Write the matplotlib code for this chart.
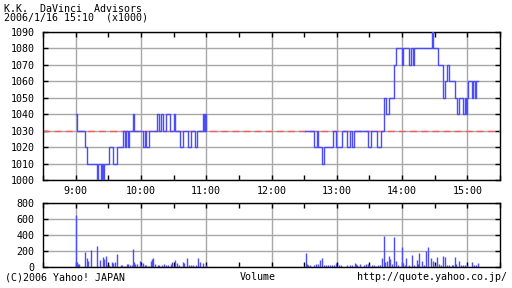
import numpy as np
import matplotlib
matplotlib.use("Agg")
import matplotlib.pyplot as plt
from matplotlib.ticker import MultipleLocator, FixedLocator

#%% data (minutes after 9:00)
am_t = [0, 1, 9, 10, 20, 21, 23, 24, 25, 26, 31, 34, 38, 43.5, 45, 46, 48, 49, 53, 54,
        62, 64, 65, 67, 75, 77, 78, 80, 83, 87, 90, 91, 96, 99, 103, 106, 110, 111.5,
        117, 118, 119, 120]
am_p = [1040, 1030, 1020, 1010, 1000, 1010, 1000, 1010, 1000, 1010, 1020, 1010, 1020, 1030,
        1020, 1030, 1020, 1030, 1040, 1030, 1020, 1030, 1020, 1030, 1040, 1030, 1040, 1030,
        1040, 1030, 1040, 1030, 1020, 1030, 1020, 1030, 1020, 1030, 1040, 1030, 1040, 1030]

pm_t = [211, 219, 221.5, 223, 226, 228, 236.5, 239, 244.5, 249.7, 252, 253.6, 256, 268.7,
        271.7, 276.6, 281, 283.4, 285.5, 288, 292.5, 294.7, 299.6, 300.8, 306.3, 308, 310,
        311, 327.4, 328.4, 333, 337.5, 339.4, 341.6, 343.2, 348.8, 350.8, 352.3, 356, 358,
        358.7, 359.3, 360.5, 364.2, 365, 366.7, 368, 369.7]
pm_p = [1030, 1020, 1030, 1020, 1010, 1020, 1030, 1020, 1030, 1020, 1030, 1020, 1030, 1020,
        1030, 1020, 1030, 1050, 1040, 1050, 1070, 1080, 1070, 1080, 1070, 1080, 1070,
        1080, 1090, 1080, 1070, 1050, 1060, 1070, 1060, 1050, 1040, 1050, 1040, 1050,
        1040, 1050, 1060, 1050, 1060, 1050, 1060, 1060]

prev_close = 1030

vol_t = [0, 1, 2, 3, 9, 10, 11, 14, 20, 22, 25, 26, 28, 29, 31, 33, 34, 36, 38, 42, 43, 45,
         47, 48, 50, 52, 53, 54, 55, 56, 59, 60, 62, 64, 65, 67, 69, 70, 71, 73, 76, 77, 79,
         81, 83, 85, 88, 89, 91, 93, 95, 99, 100, 102, 104, 106, 108, 111, 112, 114, 117, 120,
         212, 213, 214, 215, 219, 221, 223, 225, 226, 228, 230, 232, 234, 236, 237, 239, 242,
         244, 249, 252, 254, 257, 258, 259, 261, 265, 267, 269, 270, 272, 274, 276, 278, 280,
         282, 283, 284, 286, 288, 289, 291, 293, 294, 296, 300, 301, 303, 304, 306, 309, 311,
         314, 315, 316, 318, 320, 322, 324, 327, 328, 330, 332, 334, 336, 338, 339, 341, 343,
         346, 347, 349, 350, 352, 354, 356, 358, 360, 364, 366, 368, 370]
vol_v = [650, 60, 40, 40, 190, 110, 80, 210, 265, 90, 120, 100, 140, 30, 20, 60, 50, 60, 165,
         20, 20, 10, 40, 40, 20, 20, 225, 60, 40, 40, 80, 30, 50, 20, 20, 10, 70, 100, 115, 40,
         30, 30, 30, 40, 20, 30, 40, 60, 90, 50, 20, 60, 50, 110, 30, 20, 20, 20, 110, 60, 50,
         20,
         180, 40, 30, 20, 20, 40, 40, 90, 115, 30, 20, 20, 30, 20, 20, 50, 20,
         20, 20, 30, 20, 50, 40, 30, 40, 30, 40, 40, 30, 20, 20, 10, 20, 20,
         110, 385, 60, 70, 140, 100, 40, 370, 80, 20, 245, 50, 30, 110, 30, 150, 30,
         90, 40, 175, 70, 30, 195, 255, 110, 80, 30, 120, 40, 20, 140, 130, 30, 20,
         30, 30, 120, 40, 70, 30, 20, 20, 20, 60, 20, 20, 50]

hour_labels = ["9:00", "10:00", "11:00", "12:00", "13:00", "14:00", "15:00"]

#%%
blue = "#4c4cff"
grid_c = "#a8a8a8"
mono = "DejaVu Sans Mono"
fs = 7.2

fig = plt.figure(figsize=(5.12, 2.88), dpi=100)
ax = fig.add_axes([43/512, 1-180/288, 457/512, 148/288])
axv = fig.add_axes([43/512, 1-267/288, 457/512, 64/288])

hours = [60*i for i in range(7)]
for a in (ax, axv):
    a.set_xlim(-30, 390)
    a.xaxis.set_major_locator(FixedLocator(hours))
    a.xaxis.set_minor_locator(FixedLocator([h + 30 for h in [-60] + hours]))
    a.grid(True, which="major", color=grid_c, lw=1)
    a.set_axisbelow(True)
    a.tick_params(which="both", direction="in", top=True, right=True, length=3.5,
                  width=1, labelsize=fs)
    a.tick_params(axis="y", pad=6)
    a.tick_params(axis="x", pad=4)
    a.tick_params(which="minor", left=False, right=False)
    for s in a.spines.values():
        s.set_linewidth(1)

ax.set_ylim(1000, 1090)
ax.yaxis.set_major_locator(MultipleLocator(10))
ax.set_xticklabels(hour_labels, family=mono, fontsize=fs)
ax.axhline(prev_close, color="#ff5a5a", lw=1, ls=(0, (5, 3)), zorder=1.5)
ax.step(am_t, am_p, where="post", color=blue, lw=1, zorder=3)
ax.step(pm_t, pm_p, where="post", color=blue, lw=1, zorder=3)

axv.set_ylim(0, 800)
axv.yaxis.set_major_locator(MultipleLocator(200))
axv.set_xticklabels([])
axv.vlines(vol_t, 0, vol_v, color=blue, lw=1)

for lab in ax.get_yticklabels() + axv.get_yticklabels() + ax.get_xticklabels():
    lab.set_family(mono)

fig.text(4/512, 1-9/288, "K.K.  DaVinci  Advisors", family=mono, fontsize=fs, va="center")
fig.text(4/512, 1-18/288, "2006/1/16 15:10  (x1000)", family=mono, fontsize=fs, va="center")
fig.text(5/512, 1-277/288, "(C)2006 Yahoo! JAPAN", family=mono, fontsize=fs, va="center")
fig.text(258/512, 1-277/288, "Volume", family=mono, fontsize=fs, va="center", ha="center")
fig.text(507/512, 1-277/288, "http://quote.yahoo.co.jp/", family=mono, fontsize=fs,
         va="center", ha="right")

fig.savefig("out.png", dpi=100)
